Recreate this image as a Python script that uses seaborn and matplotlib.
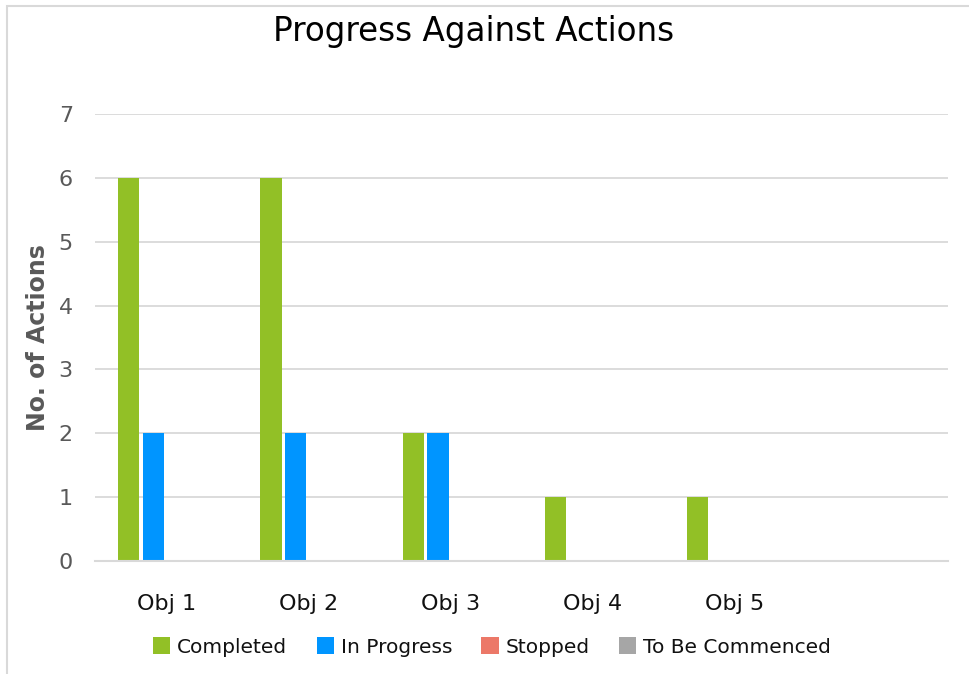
import numpy as np
import pandas as pd
import matplotlib
matplotlib.use("Agg")
import matplotlib.pyplot as plt
import seaborn as sns
from matplotlib.patches import Rectangle

# data
objectives = ["Obj 1", "Obj 2", "Obj 3", "Obj 4", "Obj 5"]
statuses = ["Completed", "In Progress", "Stopped", "To Be Commenced"]
completed = [6, 6, 2, 1, 1]
in_progress = [2, 2, 2, 0, 0]
stopped = [0, 0, 0, 0, 0]
to_be_commenced = [0, 0, 0, 0, 0]
status_colors = ["#92C026", "#0095FF", "#EC7868", "#A6A6A6"]

df = pd.DataFrame({
    "Objective": objectives * 4,
    "Status": np.repeat(statuses, len(objectives)),
    "Count": completed + in_progress + stopped + to_be_commenced,
})

sns.set_style("white")
plt.rcParams['font.family'] = ['DejaVu Sans']

fig = plt.figure(figsize=(9.69, 6.74), dpi=100)
ax = fig.add_axes([95/969, 1 - 561/674, (948 - 95)/969, (561 - 114)/674])

sns.barplot(data=df, x="Objective", y="Count", hue="Status", order=objectives,
            hue_order=statuses, palette=status_colors, width=0.7, gap=0.15,
            saturation=1, linewidth=0, ax=ax, legend=True)

# the original leaves one empty category slot on the right
ax.set_xlim(-0.5, 5.5)
ax.set_ylim(0, 7)
ax.set_yticks(range(8))
ax.yaxis.grid(True, color="#D9D9D9", linewidth=1.3)
ax.set_axisbelow(True)
for s in ["top", "right", "left"]:
    ax.spines[s].set_visible(False)
ax.spines["bottom"].set_color("#D9D9D9")
ax.spines["bottom"].set_linewidth(1.5)
ax.tick_params(axis="both", length=0)
ax.tick_params(axis="y", labelsize=16, labelcolor="#595959", pad=16)
ax.tick_params(axis="x", labelsize=16, labelcolor="#111111", pad=24)
ax.set_xlabel("")
ax.set_ylabel("No. of Actions", fontsize=17, fontweight="bold", color="#595959")
ax.yaxis.set_label_coords(-0.053, 0.5)

handles, labels = ax.get_legend_handles_labels()
ax.get_legend().remove()
fig.legend(handles, labels, loc="center", bbox_to_anchor=(492/969, 1 - 647/674),
           ncol=4, frameon=False, fontsize=14.5, handlelength=0.85, handleheight=0.85,
           handletextpad=0.35, columnspacing=1.45, labelcolor="#111111")

fig.text(474/969, 1 - 32/674, "Progress Against Actions", ha="center", va="center",
         fontsize=23.5, color="#000000")

# light frame around the chart area
fig.patches.append(Rectangle((7/969, -0.1), 1.2, 1.1 - 6/674, transform=fig.transFigure,
                             fill=False, edgecolor="#D9D9D9", linewidth=1.5))

fig.savefig("out.png", dpi=100)
